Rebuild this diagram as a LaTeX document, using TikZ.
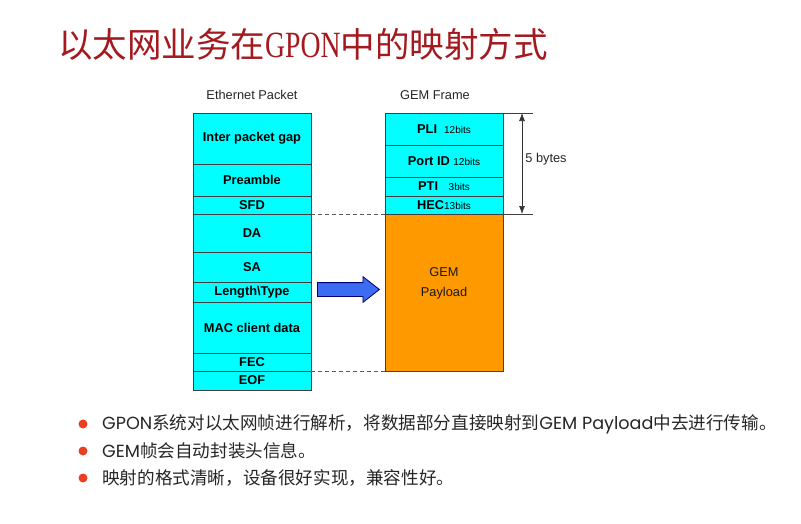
\documentclass[tikz,border=0pt]{standalone}
\usepackage{fontspec}
\setmainfont{Liberation Sans}
\newfontfamily\cjkfont{Noto Sans CJK SC}
\newfontfamily\latfont{Poppins}
\newfontfamily\titlelat[FakeStretch=0.75]{Liberation Serif}
\usepackage{tikz}
\usetikzlibrary{arrows.meta,positioning,shapes.arrows}
\definecolor{titlered}{HTML}{A3191E}
\definecolor{cellcyan}{HTML}{00FFFF}
\definecolor{payorange}{HTML}{FF9900}
\definecolor{mapblue}{HTML}{3B6CF2}
\definecolor{bulred}{HTML}{EA4020}

\begin{document}
\begin{tikzpicture}[x=1pt,y=-1pt,>={Latex[length=8pt,width=6pt]},
  cell/.style={draw=black!75,line width=0.8pt,fill=cellcyan,minimum width=118pt,inner sep=0pt,outer sep=0pt,font=\fontsize{12.8}{14}\selectfont\bfseries},
  hdr/.style={text=black!85,inner sep=0pt,font=\fontsize{12.8}{14}\selectfont},
  dot/.style={circle,fill=bulred,minimum size=9pt,inner sep=0pt},
  bullet/.style={anchor=west,inner sep=0pt,text=black!85,font=\cjkfont\fontsize{17.6}{20}\selectfont}]
\useasboundingbox (0,0) rectangle (801,523);
% title
\node[anchor=west,inner sep=0pt,text=titlered,font=\cjkfont\fontsize{34.5}{36}\selectfont] (title) at (58,44) {以太网业务在{\titlelat\fontsize{37}{37}\selectfont GPON}中的映射方式};
% ethernet packet
\node[hdr] (eth_hdr) at (252,95) {Ethernet Packet};
\node[cell,minimum height=51pt] (e_gap) at (252,138.5) {Inter packet gap};
\node[cell,minimum height=32pt] (e_pre) at (252,180) {Preamble};
\node[cell,minimum height=18pt] (e_sfd) at (252,205) {SFD};
\node[cell,minimum height=38pt] (e_da) at (252,233) {DA};
\node[cell,minimum height=30pt] (e_sa) at (252,267) {SA};
\node[cell,minimum height=20pt] (e_len) at (252,292) {Length\textbackslash Type};
\node[cell,minimum height=51pt] (e_mac) at (252,327.5) {MAC client data};
\node[cell,minimum height=18pt] (e_fec) at (252,362) {FEC};
\node[cell,minimum height=19pt] (e_eof) at (252,380.5) {EOF};
% gem frame
\node[hdr] (gem_hdr) at (435,95) {GEM Frame};
\node[cell,minimum height=32pt] (g_pli) at (444,129) {PLI\ \ {\fontsize{10}{10}\selectfont\mdseries 12bits}};
\node[cell,minimum height=32pt] (g_port) at (444,161) {Port ID\ {\fontsize{10}{10}\selectfont\mdseries 12bits}};
\node[cell,minimum height=19pt] (g_pti) at (444,186.5) {PTI\ \ \ {\fontsize{10}{10}\selectfont\mdseries 3bits}};
\node[cell,minimum height=18pt] (g_hec) at (444,205) {HEC{\fontsize{10}{10}\selectfont\mdseries 13bits}};
\node[cell,fill=payorange,minimum height=157pt] (g_pay) at (444,292.5) {};
\node[hdr,text=black!90,align=center,font=\fontsize{12.8}{19.5}\selectfont] (pay_txt) at (444,283.5) {GEM\\Payload};
% 5 bytes
\coordinate (dim_t) at (533,113);
\coordinate (dim_b) at (533,214);
\coordinate (dim_a) at (522,113);
\coordinate (dim_z) at (522,214);
\draw[black!75,line width=0.7pt] (g_pli.north east) -- (dim_t);
\draw[black!75,line width=0.7pt] (g_hec.south east) -- (dim_b);
\draw[<->,black!80,line width=0.7pt] (dim_a) -- (dim_z);
\node[hdr] (dim_lbl) at (546,159) {5 bytes};
% mapping
\draw[black!65,line width=0.8pt,dash pattern=on 4pt off 3pt] (e_sfd.south east) -- (g_hec.south west);
\draw[black!65,line width=0.8pt,dash pattern=on 4pt off 3pt] (e_fec.south east) -- (g_pay.south west);
\node[single arrow,draw=blue!45!black,line width=0.8pt,fill=mapblue,minimum height=62pt,inner xsep=0pt,inner ysep=6.5pt,single arrow head extend=6pt,single arrow tip angle=76] (map_arr) at (344,289.5) {};
% notes
\node[dot] (dot1) at (83,424) {};
\node[dot] (dot2) at (83,451) {};
\node[dot] (dot3) at (83,478) {};
\node[bullet] (note1) at (102,424) {{\latfont GPON}系统对以太网帧进行解析，将数据部分直接映射到{\latfont GEM Payload}中去进行传输。};
\node[bullet] (note2) at (102,451) {{\latfont GEM}帧会自动封装头信息。};
\node[bullet] (note3) at (102,478) {映射的格式清晰，设备很好实现，兼容性好。};
\end{tikzpicture}
\end{document}
